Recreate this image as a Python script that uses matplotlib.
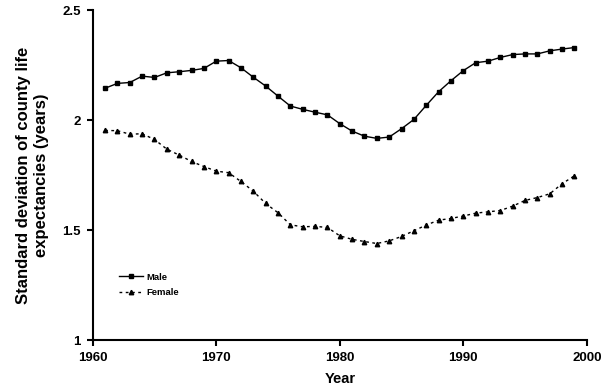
import numpy as np
import matplotlib.pyplot as plt

plt.rcParams['font.family'] = ['Liberation Sans', 'DejaVu Sans']
plt.rcParams['font.weight'] = 'bold'

years = list(range(1961, 2000))
male = [2.145, 2.167, 2.171, 2.200, 2.194, 2.215, 2.220, 2.226, 2.235, 2.268,
        2.271, 2.238, 2.195, 2.155, 2.109, 2.064, 2.049, 2.036, 2.024, 1.984,
        1.950, 1.927, 1.917, 1.923, 1.961, 2.003, 2.067, 2.129, 2.179, 2.225,
        2.261, 2.268, 2.285, 2.298, 2.301, 2.301, 2.315, 2.323, 2.330]
female = [1.953, 1.952, 1.936, 1.938, 1.912, 1.868, 1.841, 1.812, 1.789, 1.768,
          1.761, 1.721, 1.677, 1.621, 1.579, 1.524, 1.515, 1.517, 1.512, 1.474,
          1.458, 1.448, 1.439, 1.451, 1.471, 1.497, 1.523, 1.545, 1.553, 1.564,
          1.577, 1.583, 1.589, 1.609, 1.635, 1.648, 1.665, 1.711, 1.747]
xticks = [1960, 1970, 1980, 1990, 2000]
yticks = [1, 1.5, 2, 2.5]
ytick_labels = ["1", "1.5", "2", "2.5"]

fig = plt.figure(figsize=(6.1, 3.9), dpi=100)
ax = fig.add_axes([0.152, 0.128, 0.81, 0.846])

ax.plot(years, male, color='black', linewidth=1.0, marker='s', markersize=2.6, label='Male')
ax.plot(years, female, color='black', linewidth=1.0, linestyle=(0, (2, 2.5)),
        marker='^', markersize=3.2, label='Female')

ax.set_xlim(1960, 2000)
ax.set_ylim(1, 2.5)
ax.set_xticks(xticks)
ax.set_yticks(yticks)
ax.set_yticklabels(ytick_labels)
ax.tick_params(direction='out', length=4, width=1.5, labelsize=9.5, pad=4.5)
for s in ['top', 'right']:
    ax.spines[s].set_visible(False)
for s in ['left', 'bottom']:
    ax.spines[s].set_linewidth(1.5)

ax.set_xlabel("Year", fontsize=10.5, fontweight='bold', labelpad=6)
ax.set_ylabel("Standard deviation of county life\nexpectancies (years)",
              fontsize=12, fontweight='bold', labelpad=10)

ax.legend(loc='upper left', bbox_to_anchor=(0.035, 0.23), frameon=False,
          handlelength=2.6, labelspacing=0.7, handletextpad=0.3,
          prop={'weight': 'bold', 'size': 6.8})

fig.savefig('out.png', dpi=100)
